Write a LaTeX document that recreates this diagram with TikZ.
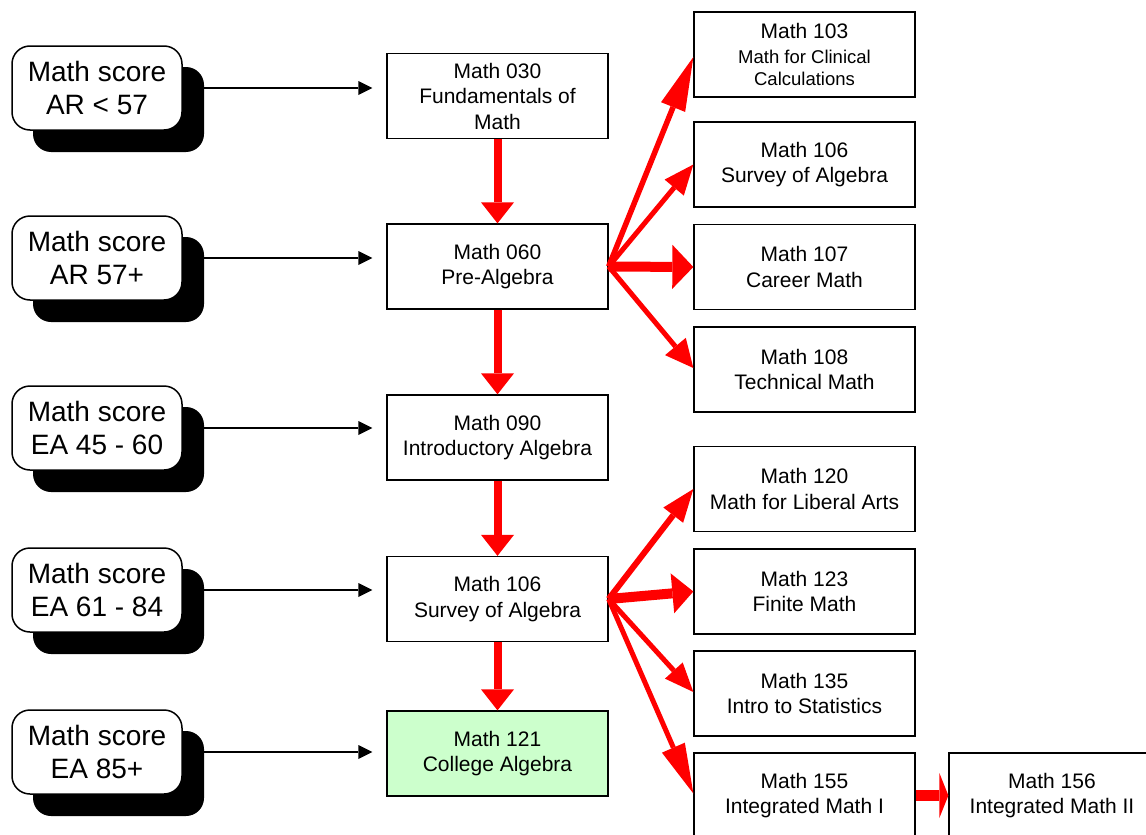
\documentclass[tikz,border=0pt]{standalone}
\usepackage{fontspec}
\setmainfont{Liberation Sans}
\usetikzlibrary{arrows.meta,calc}
\definecolor{lightgreen}{HTML}{CCFFCC}
\begin{document}
\begin{tikzpicture}[x=1pt,y=-1pt,
  box/.style={draw=black, line width=1.3pt, fill=white, minimum width=221pt, minimum height=85pt,
    align=center, inner sep=0pt, font=\fontsize{21}{25.5}\selectfont},
  score/.style={draw=black, line width=1.5pt, fill=white, rounded corners=18pt, minimum width=170pt,
    minimum height=84pt, align=center, inner sep=0pt, font=\fontsize{28}{33}\selectfont},
  shadowbox/.style={fill=black, rounded corners=18pt, minimum width=171pt, minimum height=85pt, inner sep=0pt},
  feed/.style={-{Triangle[length=14pt,width=14pt,line width=0pt]}, line width=1.3pt},
  down/.style={red, line width=8pt, -{Triangle[length=21pt,width=33pt,line width=0pt]}},
  fan/.style n args={3}{red, line width=#1, -{Triangle[length=#2,width=#3,line width=0pt]}},
]
\useasboundingbox (0,0) rectangle (1146,835);

% score boxes with shadows
\foreach \i/\y/\a/\b in {1/88/Math score/AR < 57, 2/258/Math score/AR 57+, 3/428/Math score/EA 45 - 60,
    4/590/Math score/EA 61 - 84, 5/752/Math score/EA 85+}{
  \node[shadowbox] (sh\i) at (118.5,\y+21.5) {};
  \node[score] (sc\i) at (97,\y) {\a\\\b};
}

% middle column
\node[box] (m030) at (497.5,96) {Math 030\\Fundamentals of\\Math};
\node[box] (m060) at (497.5,266.5) {Math 060\\Pre-Algebra};
\node[box] (m090) at (497.5,437.5) {Math 090\\Introductory Algebra};
\node[box] (m106) at (497.5,599) {Math 106\\Survey of Algebra};
\node[box, fill=lightgreen] (m121) at (497.5,753.5) {Math 121\\College Algebra};

% right column
\node[box] (r103) at (804.5,54.5) {\fontsize{21}{24}\selectfont Math 103\\[-1pt]\fontsize{18.5}{22}\selectfont Math for Clinical\\[-3pt]\fontsize{18.5}{22}\selectfont Calculations};
\node[box] (r106) at (804.5,164.5) {Math 106\\Survey of Algebra};
\node[box] (r107) at (804.5,267) {Math 107\\Career Math};
\node[box] (r108) at (804.5,369.5) {Math 108\\Technical Math};
\node[box] (r120) at (804.5,489) {Math 120\\Math for Liberal Arts};
\node[box] (r123) at (804.5,591.5) {Math 123\\Finite Math};
\node[box] (r135) at (804.5,693.5) {Math 135\\Intro to Statistics};
\node[box] (r155) at (804.5,795.5) {Math 155\\Integrated Math I};
\node[box, minimum width=206pt] (r156) at (1052,795.5) {Math 156\\Integrated Math II};

% feed arrows
\foreach \i/\m in {1/m030, 2/m060, 3/m090, 4/m106, 5/m121}{
  \coordinate (t\i) at ($(\m.west |- sc\i.center)+(-14,0)$);
  \draw[feed] (sh\i.east |- sc\i.center) -- (t\i);
}

% vertical red arrows
\draw[down] (m030.south) -- (m060.north);
\draw[down] (m060.south) -- (m090.north);
\draw[down] (m090.south) -- (m106.north);
\draw[down] (m106.south) -- (m121.north);

% fan from Math 060
\draw[fan={5.5pt}{54pt}{26pt}] (m060.east) -- ([yshift=-2.5pt]r103.west);
\draw[fan={5pt}{30pt}{25pt}] (m060.east) -- (r106.west);
\draw[fan={10pt}{21pt}{44pt}] (m060.east) -- (r107.west);
\draw[fan={5pt}{28pt}{27pt}] (m060.east) -- ([yshift=1.5pt]r108.west);

% fan from Math 106
\draw[fan={6pt}{33pt}{25pt}] (m106.east) -- (r120.west);
\draw[fan={10pt}{21pt}{40pt}] (m106.east) -- (r123.west);
\draw[fan={5pt}{29pt}{24pt}] (m106.east) -- ([yshift=1.5pt]r135.west);
\draw[fan={5pt}{50pt}{25pt}] (m106.east) -- ([yshift=2pt]r155.west);

% 155 -> 156
\draw[fan={11pt}{9pt}{45pt}] (r155.east) -- (r156.west);
\end{tikzpicture}
\end{document}
